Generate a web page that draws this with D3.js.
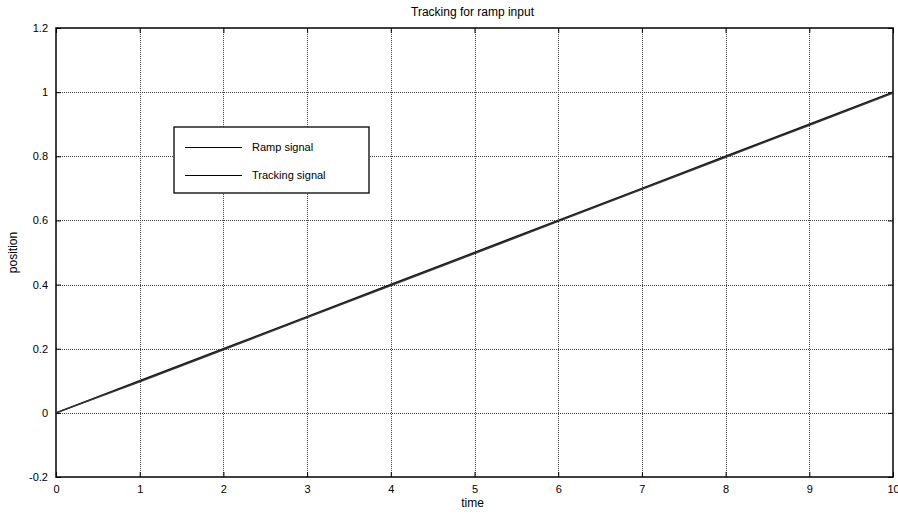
<!DOCTYPE html>
<html><head><meta charset="utf-8">
<script src="https://cdn.jsdelivr.net/npm/d3@7"></script>
<style>body{margin:0;background:#fff;}svg{display:block;font-family:"Liberation Sans",Arial,sans-serif;}</style>
</head><body><svg id="c" width="898" height="515"></svg>
<script>
const time = [0,1,2,3,4,5,6,7,8,9,10];
const rampSignal = [0,0.1,0.2,0.3,0.4,0.5,0.6,0.7,0.8,0.9,1.0];
const trackingSignal = [0,0.097,0.197,0.297,0.397,0.497,0.597,0.697,0.797,0.897,0.997];
const xTicks = [0,1,2,3,4,5,6,7,8,9,10];
const yTicks = [-0.2,0,0.2,0.4,0.6,0.8,1,1.2];
const seriesNames = ["Ramp signal","Tracking signal"];

const svg = d3.select("#c");
const L=56,R=893,T=28,B=477;
const x = d3.scaleLinear().domain([0,10]).range([L,R]);
const y = d3.scaleLinear().domain([-0.2,1.2]).range([B,T]);

// grid
const g = svg.append("g");
g.selectAll(".vg").data(xTicks.slice(1,-1)).enter().append("line")
 .attr("x1",d=>Math.round(x(d))+0.5).attr("x2",d=>Math.round(x(d))+0.5).attr("y1",T).attr("y2",B)
 .attr("stroke","#444").attr("stroke-width",1).attr("stroke-dasharray","1,1");
g.selectAll(".hg").data(yTicks.slice(1,-1)).enter().append("line")
 .attr("y1",d=>Math.round(y(d))+0.5).attr("y2",d=>Math.round(y(d))+0.5).attr("x1",L).attr("x2",R)
 .attr("stroke","#444").attr("stroke-width",1).attr("stroke-dasharray","1,1");

// axes with inward ticks
const xb = d3.axisBottom(x).tickValues(xTicks).tickSize(-5).tickPadding(8).tickFormat(d3.format("d"));
const xt = d3.axisTop(x).tickValues(xTicks).tickSize(-5).tickFormat("");
const yl = d3.axisLeft(y).tickValues(yTicks).tickSize(-5).tickPadding(8).tickFormat(d=>String(+d.toFixed(1)));
const yr = d3.axisRight(y).tickValues(yTicks).tickSize(-5).tickFormat("");
function style(sel){sel.select(".domain").remove();sel.selectAll("line").attr("stroke","#000");sel.selectAll("text").attr("font-size","11px").attr("fill","#000").attr("font-family","Liberation Sans, Arial, sans-serif");}
svg.append("g").attr("transform",`translate(0,${B})`).call(xb).call(style);
svg.append("g").attr("transform",`translate(0,${T})`).call(xt).call(style);
svg.append("g").attr("transform",`translate(${L},0)`).call(yl).call(style);
svg.append("g").attr("transform",`translate(${R},0)`).call(yr).call(style);
svg.append("rect").attr("x",L).attr("y",T).attr("width",R-L).attr("height",B-T)
 .attr("fill","none").attr("stroke","#000").attr("stroke-width",1.5);

// lines
const line = d3.line().x(d=>x(d[0])).y(d=>y(d[1]));
svg.append("path").datum(time.map((t,i)=>[t,rampSignal[i]])).attr("d",line)
 .attr("fill","none").attr("stroke","#111").attr("stroke-width",1.5);
svg.append("path").datum(time.map((t,i)=>[t,trackingSignal[i]])).attr("d",line)
 .attr("fill","none").attr("stroke","#333").attr("stroke-width",1.5);

// title & labels
svg.append("text").attr("x",(L+R)/2-2).attr("y",16).attr("text-anchor","middle").attr("font-size","12px").text("Tracking for ramp input");
svg.append("text").attr("x",(L+R)/2-2).attr("y",507).attr("text-anchor","middle").attr("font-size","12px").text("time");
svg.append("text").attr("transform",`translate(17,${(T+B)/2}) rotate(-90)`).attr("text-anchor","middle").attr("font-size","12px").text("position");

// legend
const lg = svg.append("g");
lg.append("rect").attr("x",174).attr("y",127).attr("width",195).attr("height",66).attr("fill","#fff").attr("stroke","#000").attr("stroke-width",1.3);
seriesNames.forEach((n,i)=>{
  const yy = 147+i*28;
  lg.append("line").attr("x1",185).attr("x2",242).attr("y1",yy+0.5).attr("y2",yy+0.5).attr("stroke","#000").attr("stroke-width",1);
  lg.append("text").attr("x",252).attr("y",yy+4).attr("font-size","11px").text(n);
});
</script></body></html>
